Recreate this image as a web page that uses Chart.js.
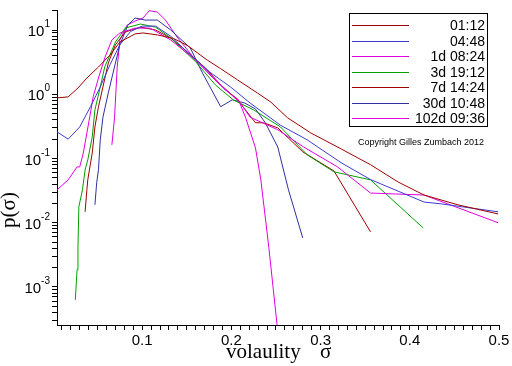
<!DOCTYPE html>
<html>
<head>
<meta charset="utf-8">
<script src="https://cdn.jsdelivr.net/npm/chart.js@4"></script>
<style>
html, body { margin: 0; padding: 0; background: #fff; }
#wrap { width: 512px; height: 366px; }
</style>
</head>
<body>
<div id="wrap"><canvas id="pdf" width="512" height="366"></canvas></div>
<script>
// volatility histograms, one per time horizon
var horizons = ['01:12', '04:48', '1d 08:24', '3d 19:12', '7d 14:24', '30d 10:48', '102d 09:36'];
var colors = ['#a00000', '#3c3cd2', '#e000e0', '#00a000', '#a00000', '#3030a0', '#e000e0'];

var sigma_0112 = [0.0045, 0.017, 0.028, 0.038, 0.051, 0.064, 0.075, 0.092, 0.101, 0.117, 0.135, 0.151, 0.165, 0.173, 0.188, 0.207, 0.229, 0.244, 0.263, 0.289, 0.323, 0.356, 0.387, 0.416, 0.454, 0.499];
var p_0112     = [0.88, 0.91, 1.25, 1.79, 2.66, 4.08, 6.5, 8.7, 9.0, 8.4, 7.4, 5.7, 4.1, 3.4, 2.5, 1.67, 1.05, 0.76, 0.43, 0.25, 0.141, 0.080, 0.043, 0.027, 0.019, 0.0137];

var sigma_0448 = [0.0045, 0.017, 0.030, 0.042, 0.053, 0.064, 0.075, 0.087, 0.100, 0.115, 0.132, 0.154, 0.176, 0.199, 0.221, 0.255, 0.285, 0.323, 0.356, 0.416, 0.435, 0.499];
var p_0448     = [0.26, 0.20, 0.31, 0.64, 1.3, 2.9, 5.9, 9.5, 11.5, 11.5, 8.0, 4.1, 2.2, 1.3, 0.73, 0.33, 0.195, 0.086, 0.047, 0.021, 0.0197, 0.0148];

var sigma_1d = [0.0045, 0.017, 0.027, 0.030, 0.034, 0.038, 0.042, 0.045, 0.051, 0.058, 0.066, 0.075, 0.092, 0.109, 0.132, 0.160, 0.188, 0.210, 0.221, 0.252, 0.281, 0.319, 0.356, 0.416, 0.499];
var p_1d     = [0.0325, 0.0465, 0.074, 0.074, 0.122, 0.25, 0.51, 0.91, 1.79, 3.67, 7.0, 9.0, 10.7, 10.7, 7.0, 3.4, 1.4, 0.73, 0.44, 0.28, 0.151, 0.074, 0.029, 0.027, 0.010];

var sigma_3d = [0.025, 0.027, 0.028, 0.029, 0.033, 0.036, 0.039, 0.044, 0.047, 0.053, 0.058, 0.070, 0.081, 0.098, 0.115, 0.132, 0.160, 0.182, 0.202, 0.225, 0.255, 0.285, 0.315, 0.356, 0.415];
var p_3d     = [0.00063, 0.00185, 0.0042, 0.0177, 0.0325, 0.0665, 0.095, 0.217, 0.57, 1.3, 2.66, 6.5, 10.7, 12.4, 11.1, 7.5, 3.2, 1.4, 0.82, 0.57, 0.31, 0.114, 0.062, 0.0465, 0.0083];

var sigma_7d = [0.036, 0.038, 0.039, 0.044, 0.047, 0.051, 0.056, 0.062, 0.070, 0.081, 0.098, 0.115, 0.132, 0.148, 0.171, 0.188, 0.207, 0.227, 0.236, 0.252, 0.280, 0.315, 0.356];
var p_7d     = [0.0148, 0.0325, 0.0465, 0.122, 0.31, 0.64, 1.3, 3.07, 5.9, 9.3, 11.1, 10, 7.5, 4.9, 2.56, 1.4, 0.82, 0.36, 0.36, 0.30, 0.127, 0.064, 0.0072];

var sigma_30d = [0.047, 0.049, 0.051, 0.053, 0.056, 0.062, 0.070, 0.075, 0.084, 0.092, 0.103, 0.117, 0.132, 0.154, 0.167, 0.188, 0.201, 0.215, 0.227, 0.238, 0.252, 0.264, 0.280];
var p_30d     = [0.019, 0.042, 0.067, 0.195, 0.44, 1.05, 3.07, 5.9, 11.9, 15.4, 14.3, 14.3, 10, 5.25, 2.22, 0.64, 0.82, 0.73, 0.59, 0.36, 0.151, 0.0325, 0.0058];

var sigma_102d = [0.066, 0.069, 0.072, 0.075, 0.083, 0.092, 0.101, 0.108, 0.117, 0.126, 0.139, 0.160, 0.176, 0.193, 0.208, 0.216, 0.227, 0.233, 0.242, 0.253];
var p_102d     = [0.163, 0.43, 2.66, 7.0, 11.9, 13.8, 15.4, 20.0, 19.1, 14.3, 7.8, 3.4, 2.0, 1.17, 0.82, 0.43, 0.146, 0.0465, 0.0041, 0.00015];

var xMin = 0.0045, xMax = 0.5;
var yMin = 2.56e-4, yMax = 20.5;
var xLabels = [0.1, 0.2, 0.3, 0.4, 0.5];
var yDecades = [-3, -2, -1, 0, 1];

var allSigma = [sigma_0112, sigma_0448, sigma_1d, sigma_3d, sigma_7d, sigma_30d, sigma_102d];
var allP = [p_0112, p_0448, p_1d, p_3d, p_7d, p_30d, p_102d];

var datasets = [];
for (var i = 0; i < horizons.length; i++) {
    var pts = [];
    for (var j = 0; j < allSigma[i].length; j++) {
        pts.push({x: allSigma[i][j], y: allP[i][j]});
    }
    datasets.push({
        label: horizons[i],
        data: pts,
        borderColor: colors[i],
        backgroundColor: 'rgba(0,0,0,0)',
        borderWidth: 1,
        pointRadius: 0,
        tension: 0
    });
}

// minor ticks 1..9 per decade on the log axis
function logTicks() {
    var t = [];
    for (var e = -4; e <= 1; e++) {
        for (var m = 1; m <= 9; m++) {
            var v = m * Math.pow(10, e);
            if (v >= yMin && v <= yMax) t.push({value: v, major: m == 1});
        }
    }
    return t;
}

// labels, titles and the boxed legend, drawn the way the original tool lays them out
const decorations = {
    id: 'decorations',
    afterDraw(chart) {
        const c = chart.ctx;
        const ys = chart.scales.y;
        c.save();
        c.fillStyle = '#000';
        c.textBaseline = 'alphabetic';

        // 10^n tick labels
        yDecades.forEach(function (e) {
            const py = ys.getPixelForValue(Math.pow(10, e));
            const sup = String(e);
            c.font = '10px "Liberation Sans"';
            c.textAlign = 'right';
            const w = c.measureText(sup).width;
            c.fillText(sup, 50, py - 3);
            c.font = '15px "Liberation Sans"';
            c.fillText('10', 50 - w, py + 6);
        });

        // axis titles
        c.font = '21px "Liberation Serif"';
        c.textAlign = 'left';
        c.fillText('volaulity', 226, 358);
        c.fillText('\u03c3', 320, 358);
        c.save();
        c.translate(15, 210);
        c.rotate(-Math.PI / 2);
        c.textAlign = 'center';
        c.fillText('p(\u03c3)', 0, 0);
        c.restore();

        // legend box
        c.strokeStyle = '#000';
        c.lineWidth = 1;
        c.strokeRect(349.5, 13.5, 138, 113);
        c.font = '14px "Liberation Sans"';
        c.textAlign = 'right';
        c.textBaseline = 'middle';
        for (var k = 0; k < horizons.length; k++) {
            const ly = Math.round(25 + k * 15.5) + 0.5;
            c.strokeStyle = colors[k];
            c.beginPath();
            c.moveTo(352, ly);
            c.lineTo(409, ly);
            c.stroke();
            c.fillText(horizons[k], 485, ly + 1);
        }

        c.font = '9px "Liberation Sans"';
        c.textAlign = 'center';
        c.fillText('Copyright Gilles Zumbach 2012', 421, 143);
        c.restore();
    }
};

const ctx = document.getElementById('pdf').getContext('2d');
const pdfChart = new Chart(ctx, {
    type: 'line',
    data: {datasets: datasets},
    options: {
        responsive: false,
        animation: false,
        devicePixelRatio: 1,
        layout: {padding: {left: 0, right: 13, top: 10, bottom: 0}},
        plugins: {legend: {display: false}, tooltip: {enabled: false}},
        scales: {
            x: {
                type: 'linear',
                min: xMin,
                max: xMax,
                afterFit: function (s) { s.height = 41; },
                border: {display: true, color: '#000', width: 1},
                grid: {drawOnChartArea: false, color: '#000', tickLength: 5},
                ticks: {
                    stepSize: 0.01,
                    includeBounds: false,
                    autoSkip: false,
                    maxRotation: 0,
                    padding: 2,
                    color: '#000',
                    font: {family: 'Liberation Sans', size: 15},
                    callback: function (v) {
                        for (var k = 0; k < xLabels.length; k++) {
                            if (Math.abs(v - xLabels[k]) < 1e-6) return xLabels[k].toFixed(1);
                        }
                        return '';
                    }
                }
            },
            y: {
                type: 'logarithmic',
                min: yMin,
                max: yMax,
                afterFit: function (s) { s.width = 57; },
                afterBuildTicks: function (s) { s.ticks = logTicks(); },
                border: {display: true, color: '#000', width: 1},
                grid: {drawOnChartArea: false, color: '#000', tickLength: 5},
                ticks: {display: false}
            }
        }
    },
    plugins: [decorations]
});
</script>
</body>
</html>
